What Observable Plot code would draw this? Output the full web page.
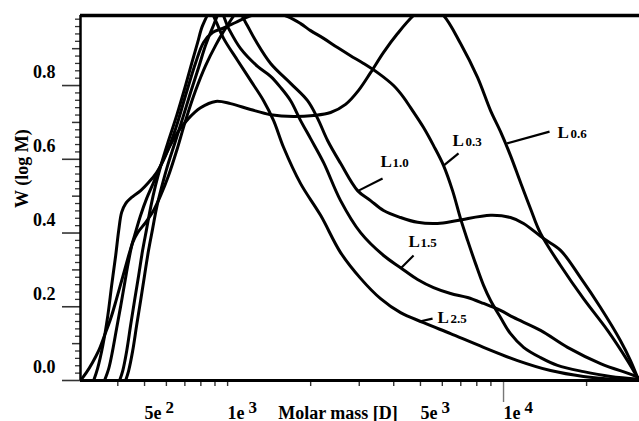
<!DOCTYPE html>
<html><head><meta charset="utf-8">
<script src="https://cdn.jsdelivr.net/npm/d3@7"></script>
<script src="https://cdn.jsdelivr.net/npm/@observablehq/plot@0.6"></script>
<style>
html,body{margin:0;padding:0;background:#fff;}
#chart{width:639px;height:421px;overflow:hidden;}
</style></head><body><div id="chart"></div>
<script>
// ---- data (molar mass M in Dalton, W = W(log M)) ----
const massL06 = [293,308,324,341,358,377,396,417,438,460,484,509,539,572,611,659,722,798,905,1025,1211,1432,1734,2049,2362,2676,2983,3297,3675,4130,4720,5350,6062,6986,8050,8974,9752,10600,11524,12527,13620,16090,19490,23820,28140,30590];
const wL06    = [0,0.022,0.049,0.081,0.122,0.168,0.222,0.282,0.339,0.393,0.448,0.494,0.537,0.583,0.629,0.673,0.711,0.740,0.757,0.751,0.735,0.721,0.716,0.719,0.727,0.749,0.787,0.835,0.890,0.941,0.990,1.02,0.990,0.914,0.822,0.732,0.675,0.610,0.537,0.466,0.399,0.312,0.222,0.136,0.054,0.008];

const massL03 = [327,338,353,368,380,393,403,413,427,453,484,517,553,596,648,704,766,818,882,959,1069,1191,1408,1650,1839,1999,2228,2503,2790,3110,3525,3994,4342,4603,5130,5577,6062,6535,6986,7408,7918,8464,8974,9752,10600,11820,13620,15690,19490,24420,31360];
const wL03    = [0,0.033,0.095,0.176,0.258,0.339,0.407,0.456,0.480,0.499,0.515,0.537,0.564,0.610,0.683,0.773,0.862,0.917,0.944,0.955,0.971,0.987,1.0,0.987,0.968,0.949,0.928,0.903,0.881,0.860,0.833,0.800,0.768,0.740,0.686,0.637,0.583,0.515,0.439,0.380,0.317,0.258,0.217,0.171,0.127,0.090,0.062,0.041,0.024,0.011,0.003];

const massL10 = [358,371,383,396,410,424,438,453,472,505,539,572,611,654,704,766,832,905,983,1096,1162,1263,1432,1692,1949,2119,2303,2567,2958,3297,3675,4235,4880,5766,6813,8974,10600,11820,13960,16090,19010,22460,26540,28850,30590];
const wL10    = [0,0.033,0.081,0.141,0.203,0.266,0.325,0.374,0.401,0.429,0.461,0.502,0.556,0.624,0.705,0.787,0.854,0.909,0.955,1.0,0.971,0.922,0.860,0.806,0.759,0.711,0.651,0.589,0.515,0.488,0.461,0.442,0.429,0.426,0.434,0.448,0.442,0.426,0.385,0.353,0.279,0.198,0.108,0.054,0.008];

const massL15 = [427,438,453,468,484,500,517,535,553,576,606,643,687,734,785,832,882,943,1008,1115,1284,1432,1556,1692,1839,1999,2228,2567,3033,3675,4235,4880,5577,6427,7408,8464,9752,10870,13620,17060,22460,29580,31360];
const wL15    = [0,0.027,0.081,0.149,0.217,0.285,0.353,0.412,0.469,0.523,0.583,0.643,0.711,0.781,0.849,0.909,0.957,1.0,0.955,0.900,0.852,0.825,0.795,0.759,0.705,0.656,0.591,0.488,0.401,0.339,0.306,0.274,0.252,0.236,0.225,0.209,0.190,0.171,0.136,0.090,0.046,0.014,0.005];

const massL25 = [406,417,431,445,460,476,492,509,526,548,576,611,654,699,741,779,812,868,905,967,1087,1211,1350,1468,1596,1839,2173,2567,3033,3584,4235,5130,6427,8464,11240,14800,19490,25460,31360];
const wL25    = [0,0.027,0.081,0.149,0.217,0.285,0.353,0.412,0.469,0.529,0.589,0.651,0.719,0.792,0.860,0.917,0.963,1.0,0.976,0.928,0.868,0.814,0.759,0.705,0.632,0.534,0.448,0.347,0.277,0.222,0.184,0.157,0.127,0.090,0.054,0.027,0.011,0.003,0];

// ---- curve labels and leader lines ----
const labelSub   = ["0.6","0.3","1.0","1.5","2.5"];
const labelM     = [15690, 6535, 3584, 4527, 5766];   // where "L" starts
const labelSubM  = [17490, 7285, 3962, 5004, 6427];   // where the number starts
const labelW     = [0.659, 0.637, 0.578, 0.361, 0.155];
const leaderM1   = [10300, 6062, 2983, 4235, 4962];
const leaderW1   = [0.643, 0.583, 0.515, 0.304, 0.160];
const leaderM2   = [14680, 6871, 3645, 4720, 5531];
const leaderW2   = [0.675, 0.616, 0.548, 0.339, 0.168];

// ---- ticks ----
const xMinorTicks = [400,500,600,700,800,900,1000,2000,3000,4000,5000,6000,7000,8000,9000,20000];
const xLongTicks  = [10000];
const xLabelValues = [500, 1000, 5000, 10000];
const xLabelBase   = ["5e","1e","5e","1e"];
const xLabelExp    = ["2","3","3","4"];
const yMinorTicks = [0.02,0.04,0.06,0.08,0.12,0.14,0.16,0.18,0.22,0.24,0.26,0.28,0.32,0.34,0.36,0.38,0.42,0.44,0.46,0.48,0.52,0.54,0.56,0.58,0.62,0.64,0.66,0.68,0.72,0.74,0.76,0.78,0.82,0.84,0.86,0.88,0.92,0.94,0.96,0.98];
const yMidTicks   = [0.1,0.3,0.5,0.7,0.9];
const yMajorTicks = [0,0.2,0.4,0.6,0.8];
const yLabels     = ["0.0","0.2","0.4","0.6","0.8"];

const X0 = 293, X1 = 31100, Y0 = 0, Y1 = 0.99;

// ---- build tables ----
const series = [
  ["L0.6", massL06, wL06], ["L0.3", massL03, wL03], ["L1.0", massL10, wL10],
  ["L1.5", massL15, wL15], ["L2.5", massL25, wL25]
];
const rows = series.flatMap(([name, ms, ws]) => ms.map((m, i) => ({series: name, M: m, W: ws[i]})));
const labels = labelSub.map((s, i) => ({sub: s, M: labelM[i], Ms: labelSubM[i], W: labelW[i]}));
const leaders = leaderM1.map((m, i) => ({x1: m, y1: leaderW1[i], x2: leaderM2[i], y2: leaderW2[i]}));
const xLabs = xLabelValues.map((v, i) => ({v, base: xLabelBase[i], exp: xLabelExp[i]}));
const yLabs = yMajorTicks.map((v, i) => ({v, t: yLabels[i]}));

const FONT = '"Liberation Serif", "Times New Roman", serif';
const blank = () => "";

const chart = Plot.plot({
  width: 639, height: 421,
  marginLeft: 80, marginRight: 0, marginTop: 15, marginBottom: 41,
  style: {fontFamily: FONT, fontWeight: "bold", fontSize: "17px", background: "white", color: "black", overflow: "visible"},
  x: {type: "log", domain: [X0, X1], label: null},
  y: {domain: [Y0, Y1], label: null},
  marks: [
    // ticks
    Plot.axisY(yMinorTicks, {tickSize: 5, tickFormat: blank, label: null, strokeWidth: 1.3, stroke: "#333"}),
    Plot.axisY(yMidTicks, {tickSize: 8, tickFormat: blank, label: null, strokeWidth: 1.5, stroke: "#333"}),
    Plot.axisY(yMajorTicks, {tickSize: 18, tickFormat: blank, label: null, strokeWidth: 1.6, stroke: "#333"}),
    Plot.axisX(xMinorTicks, {tickSize: 6, tickFormat: blank, label: null, strokeWidth: 1.4, stroke: "#333"}),
    Plot.axisX(xLongTicks, {tickSize: 22, tickFormat: blank, label: null, strokeWidth: 1.4, stroke: "#777"}),
    // tick labels
    Plot.text(yLabs, {x: X0, y: "v", text: "t", textAnchor: "end", dx: -25, dy: -13, fontSize: 18, fontWeight: "bold"}),
    Plot.text(xLabs, {x: "v", y: Y0, text: "base", textAnchor: "start", lineAnchor: "bottom", dx: 0, dy: 38, fontSize: 18, fontWeight: "bold"}),
    Plot.text(xLabs, {x: "v", y: Y0, text: "exp", textAnchor: "start", lineAnchor: "bottom", dx: 21, dy: 32, fontSize: 17, fontWeight: "bold"}),
    // axis titles
    Plot.text(["Molar mass [D]"], {frameAnchor: "bottom", lineAnchor: "bottom", dx: -22, dy: 38, fontSize: 18, fontWeight: "bold"}),
    Plot.text(["W (log M)"], {frameAnchor: "left", dx: -58, dy: 10, rotate: -90, fontSize: 18, fontWeight: "bold"}),
    // curves
    Plot.line(rows, {x: "M", y: "W", z: "series", stroke: "black", strokeWidth: 3, curve: "catmull-rom", clip: true}),
    // frame lines
    Plot.ruleY([Y1], {stroke: "black", strokeWidth: 3.5}),
    Plot.ruleY([Y0], {stroke: "black", strokeWidth: 3}),
    Plot.ruleX([X0], {stroke: "black", strokeWidth: 2.5}),
    // curve labels
    Plot.link(leaders, {x1: "x1", y1: "y1", x2: "x2", y2: "y2", stroke: "black", strokeWidth: 2.2}),
    Plot.text(labels, {x: "M", y: "W", text: () => "L", textAnchor: "start", lineAnchor: "bottom", fontSize: 17, fontWeight: "bold"}),
    Plot.text(labels, {x: "Ms", y: "W", text: "sub", textAnchor: "start", lineAnchor: "bottom", fontSize: 13, fontWeight: "bold"})
  ]
});
document.getElementById("chart").appendChild(chart);
</script>
</body></html>
